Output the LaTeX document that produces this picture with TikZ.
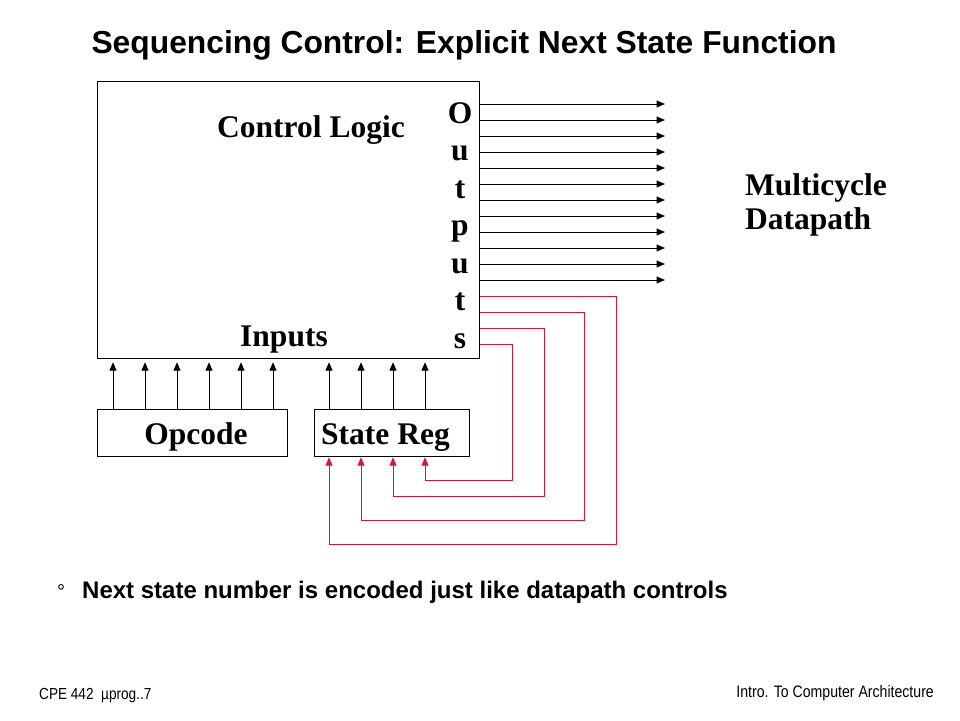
\documentclass[tikz,border=0pt]{standalone}
\usepackage{fontspec}
\setmainfont{Liberation Serif}
\newfontfamily\arial{Liberation Sans}
\newfontfamily\arialn[FakeStretch=0.85]{Liberation Sans}
\usetikzlibrary{arrows.meta}
\definecolor{fbred}{RGB}{215,20,60}
\begin{document}
\begin{tikzpicture}[x=1pt,y=-1pt,
  boxstyle/.style={draw, line width=1.2pt, inner sep=0pt, anchor=north west},
  bigtxt/.style={font=\fontsize{31.5}{37.5}\selectfont\bfseries, inner sep=0pt},
  sig/.style={line width=1pt, -{Triangle[length=8.5pt,width=7pt]}},
  fb/.style={sig, draw=fbred}]
\useasboundingbox (0,0) rectangle (960,720);
% title
\node[font=\arial\fontsize{31.8}{38}\selectfont\bfseries, anchor=base, inner sep=0pt] (title) at (464,53) {Sequencing Control: Explicit Next State Function};
% boxes
\node[boxstyle, minimum width=382pt, minimum height=277pt] (ctrl) at (97,81) {};
\node[boxstyle, minimum width=190pt, minimum height=47pt] (opc) at (97,409) {};
\node[boxstyle, minimum width=155pt, minimum height=47pt] (sreg) at (314,409) {};
% labels
\node[bigtxt, anchor=base] (cl) at (311,137) {Control Logic};
\node[bigtxt, anchor=base] (inp) at (284,346) {Inputs};
\node[bigtxt, anchor=base] (opct) at (196,444) {Opcode};
\node[bigtxt, anchor=base west] (srt) at (321,444) {State Reg};
\node[bigtxt, anchor=base west] (mc1) at (745,195) {Multicycle};
\node[bigtxt, anchor=base west] (mc2) at (745,229) {Datapath};
\foreach \ch [count=\i from 0] in {O,u,t,p,u,t,s}
  \node[bigtxt, anchor=base] (out\i) at (460,{123+37.5*\i}) {\ch};
% output arrows
\coordinate (dp) at (665,0);
\foreach \k in {0,...,11}
  \draw[sig] (ctrl.east |- 0,{104+16*\k}) -- (dp |- 0,{104+16*\k});
% input arrows
\foreach \x in {113,145,177,209,241,273}
  \draw[sig, shorten >=3pt] (\x,0 |- opc.north) -- (\x,0 |- ctrl.south);
\foreach \x in {329,361,393,425}
  \draw[sig, shorten >=3pt] (\x,0 |- sreg.north) -- (\x,0 |- ctrl.south);
% feedback
\draw[fb] (ctrl.east |- 0,344) -- (512,344) -- (512,480) -- (425,480) -- (425,0 |- sreg.south);
\draw[fb] (ctrl.east |- 0,328) -- (544,328) -- (544,496) -- (393,496) -- (393,0 |- sreg.south);
\draw[fb] (ctrl.east |- 0,312) -- (584,312) -- (584,520) -- (361,520) -- (361,0 |- sreg.south);
\draw[fb] (ctrl.east |- 0,296) -- (616,296) -- (616,544) -- (329,544) -- (329,0 |- sreg.south);
% bullet
\node[font=\arial\fontsize{20}{24}\selectfont, anchor=base west, inner sep=0pt] (bul) at (57,598) {°};
\node[font=\arial\fontsize{24}{29}\selectfont\bfseries, anchor=base west, inner sep=0pt] (btxt) at (82,598) {Next state number is encoded just like datapath controls};
% footer
\node[font=\arialn\fontsize{16}{19}\selectfont, anchor=base west, inner sep=0pt] (fl) at (39,699) {CPE 442\ \ µprog..7};
\node[font=\arialn\fontsize{16.6}{19}\selectfont, anchor=base east, inner sep=0pt] (fr) at (934,697) {Intro. To Computer Architecture};
\end{tikzpicture}
\end{document}
